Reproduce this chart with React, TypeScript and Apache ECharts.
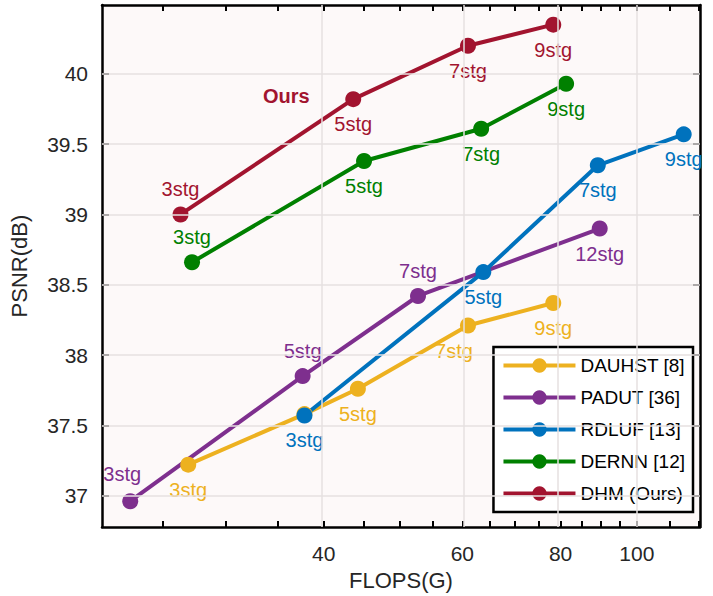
import React, { useEffect, useRef } from "react";
import * as echarts from "echarts";

const seriesNames = ["DAUHST [8]", "PADUT [36]", "RDLUF [13]", "DERNN [12]", "DHM (Ours)"];
const colors = ["#EDB120", "#7E2F8E", "#0072BD", "#008000", "#A2142F"];
const dauhstFlops = [26.9, 37.8, 44.2, 61.0, 78.3];
const dauhstPsnr = [37.22, 37.58, 37.76, 38.21, 38.37];
const dauhstLabels = ["3stg", "", "5stg", "7stg", "9stg"];
const padutFlops = [22.7, 37.6, 52.7, 89.7];
const padutPsnr = [36.96, 37.85, 38.42, 38.9];
const padutLabels = ["3stg", "5stg", "7stg", "12stg"];
const rdlufFlops = [37.8, 63.8, 89.2, 114.7];
const rdlufPsnr = [37.57, 38.59, 39.35, 39.57];
const rdlufLabels = ["3stg", "5stg", "7stg", "9stg"];
const dernnFlops = [27.2, 45.0, 63.4, 81.3];
const dernnPsnr = [38.66, 39.38, 39.61, 39.93];
const dernnLabels = ["3stg", "5stg", "7stg", "9stg"];
const dhmFlops = [26.3, 43.6, 61.0, 78.3];
const dhmPsnr = [39.0, 39.82, 40.2, 40.35];
const dhmLabels = ["3stg", "5stg", "7stg", "9stg"];
const xTickLabels = [40, 60, 80, 100];
const xMinorTicks = [25, 30, 35, 40, 45, 50, 55, 60, 65, 70, 75, 80, 85, 90, 95, 100, 110, 120];
const yTickLabels = [37, 37.5, 38, 38.5, 39, 39.5, 40];

const lg = Math.log10;
const posMap: Record<string, string[]> = {
  DAUHST: ["bottom", "bottom", "bottom", "bottomLeft", "bottom"],
  PADUT: ["topLeft", "top", "top", "bottom"],
  RDLUF: ["bottom", "bottom", "bottom", "bottom"],
  DERNN: ["top", "bottom", "bottom", "bottom"],
  DHM: ["top", "bottom", "bottom", "bottom"],
};

export default function App() {
  const ref = useRef<HTMLDivElement>(null);
  useEffect(() => {
    const chart = echarts.init(ref.current!, null, { renderer: "svg" });
    const font = "Liberation Sans, Arial, sans-serif";
    const mk = (name: string, key: string, color: string, xs: number[], ys: number[], labs: string[]) => ({
      name,
      type: "line",
      color,
      symbol: "circle",
      symbolSize: 16,
      lineStyle: { width: 4, color },
      itemStyle: { color },
      z: 3,
      data: xs.map((x, i) => {
        const p = posMap[key][i];
        let position: any = p;
        let offset: any = [0, 0];
        if (p === "bottomLeft") { position = "bottom"; offset = [-14, 0]; }
        if (p === "topLeft") { position = "top"; offset = [-8, -2]; }
        return {
          value: [lg(x), ys[i]],
          label: { show: labs[i] !== "", formatter: labs[i], position, offset, distance: 7, color, fontSize: 20, fontFamily: font },
        };
      }),
    });
    const gridLines = {
      type: "line", data: [], silent: true,
      markLine: {
        silent: true, symbol: "none", label: { show: false },
        lineStyle: { color: "#e6e0e0", type: "solid", width: 1.5 },
        data: [
          ...yTickLabels.map((v) => ({ yAxis: v })),
          ...xTickLabels.map((v) => ({ xAxis: lg(v) })),
        ],
      },
    };
    const xMin = lg(20.9), xMax = lg(120.3), yMin = 36.776, yMax = 40.49;
    chart.setOption({
      animation: false,
      backgroundColor: "#ffffff",
      grid: { left: 97, right: 13, top: 5, bottom: 61, show: true, backgroundColor: "#fdf9f9", borderWidth: 0 },
      legend: {
        orient: "vertical", right: 20, bottom: 84, itemWidth: 72, itemHeight: 18, itemGap: 13,
        backgroundColor: "#ffffff", borderColor: "#000", borderWidth: 2.5, padding: [9, 8, 9, 8],
        textStyle: { fontSize: 19, fontFamily: font, color: "#000" },
        itemStyle: { borderWidth: 0 },
        lineStyle: { width: 4 },
        data: seriesNames,
      },
      xAxis: [
        {
          type: "value", min: xMin, max: xMax, name: "FLOPS(G)", nameLocation: "middle", nameGap: 40,
          nameTextStyle: { fontSize: 22, fontFamily: font, color: "#262626" },
          axisLine: { show: true, lineStyle: { color: "#000", width: 2.5 } },
          axisTick: { show: true, inside: true, length: 6, customValues: xMinorTicks.map(lg), lineStyle: { color: "#000", width: 2 } },
          axisLabel: { customValues: xTickLabels.map(lg), formatter: (v: number) => String(Math.round(Math.pow(10, v))), fontSize: 21, fontFamily: font, color: "#262626", margin: 16 },
          splitLine: { show: false },
        },
        {
          type: "value", min: xMin, max: xMax, position: "top",
          axisLine: { show: true, lineStyle: { color: "#000", width: 2.5 } },
          axisTick: { show: true, inside: true, length: 6, customValues: xMinorTicks.map(lg), lineStyle: { color: "#000", width: 2 } },
          axisLabel: { show: false }, splitLine: { show: false },
        },
      ],
      yAxis: [
        {
          type: "value", min: yMin, max: yMax, name: "PSNR(dB)", nameLocation: "middle", nameGap: 72,
          nameTextStyle: { fontSize: 22, fontFamily: font, color: "#262626" },
          axisLine: { show: true, lineStyle: { color: "#000", width: 2.5 } },
          axisTick: { show: true, inside: true, length: 7, customValues: yTickLabels, lineStyle: { color: "#000", width: 2 } },
          axisLabel: { customValues: yTickLabels, fontSize: 21, fontFamily: font, color: "#262626", margin: 14 },
          splitLine: { show: false },
        },
        {
          type: "value", min: yMin, max: yMax, position: "right",
          axisLine: { show: true, lineStyle: { color: "#000", width: 2.5 } },
          axisTick: { show: true, inside: true, length: 7, customValues: yTickLabels, lineStyle: { color: "#000", width: 2 } },
          axisLabel: { show: false }, splitLine: { show: false },
        },
      ],
      series: [
        gridLines,
        mk(seriesNames[0], "DAUHST", colors[0], dauhstFlops, dauhstPsnr, dauhstLabels),
        mk(seriesNames[1], "PADUT", colors[1], padutFlops, padutPsnr, padutLabels),
        mk(seriesNames[2], "RDLUF", colors[2], rdlufFlops, rdlufPsnr, rdlufLabels),
        mk(seriesNames[3], "DERNN", colors[3], dernnFlops, dernnPsnr, dernnLabels),
        mk(seriesNames[4], "DHM", colors[4], dhmFlops, dhmPsnr, dhmLabels),
      ],
      graphic: [
        { type: "text", left: 263, top: 86, style: { text: "Ours", fontSize: 20, fontWeight: "bold", fontFamily: font, fill: "#A2142F" } },
      ],
    });
    return () => chart.dispose();
  }, []);
  return <div ref={ref} style={{ position: "absolute", left: 0, top: 0, width: 713, height: 596 }} />;
}
